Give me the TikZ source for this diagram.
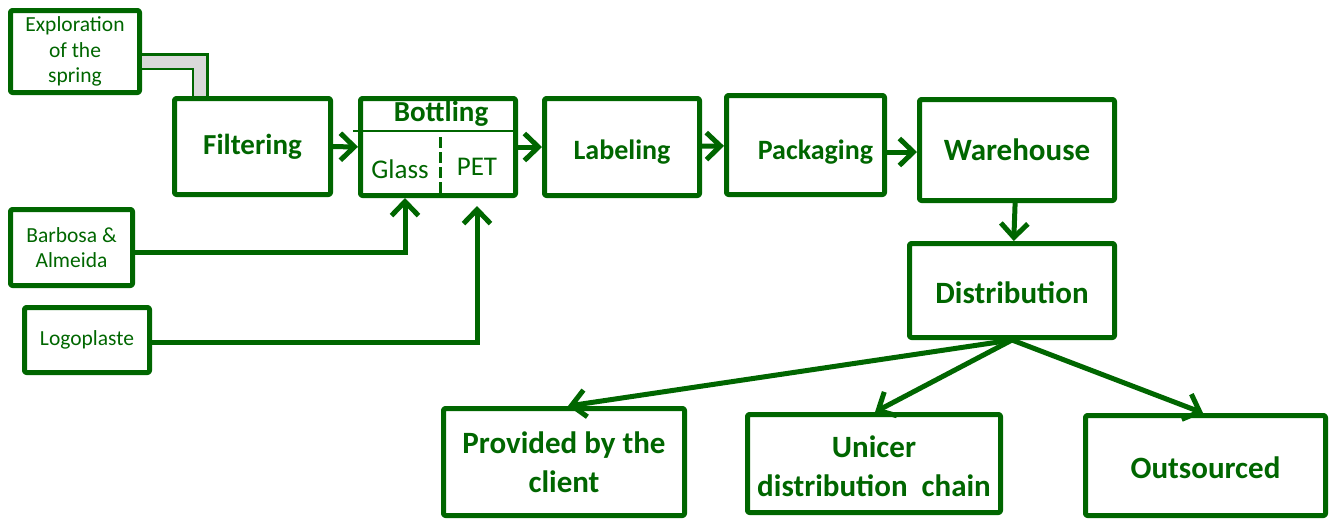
\documentclass[tikz,border=0pt]{standalone}
\usepackage{fontspec}
\setmainfont{Carlito}
\usetikzlibrary{arrows.meta}
\definecolor{dkgreen}{RGB}{0,102,0}

\begin{document}
\begin{tikzpicture}[x=1pt, y=-1pt, line join=round,
  box/.style = {draw=dkgreen, line width=5pt, rounded corners=2pt, text=dkgreen, align=center, inner sep=0pt},
  big/.style = {font=\fontsize{29}{34}\selectfont\bfseries},
  small/.style = {font=\fontsize{21.5}{25.5}\selectfont},
  chan/.style = {font=\fontsize{31}{39}\selectfont\bfseries},
  flow/.style = {draw=dkgreen, line width=5pt, -{Straight Barb[length=14pt, width=27pt]}}]
  \useasboundingbox (0,0) rectangle (1336,520);

  % supplies
  \node[box, small, minimum width=129pt, minimum height=82pt] (expl) at (75,51.5) {Exploration\\of the\\spring};
  \node[box, small, minimum width=122pt, minimum height=76pt] (barb) at (71.5,247.5) {Barbosa \&\\Almeida};
  \node[box, small, minimum width=125pt, minimum height=65pt] (logo) at (87,340) {Logoplaste};

  % main line
  \node[box, big, minimum width=156pt, minimum height=96pt] (filt) at (252.5,146.5) {Filtering};
  \node[box, minimum width=155pt, minimum height=97pt] (bott) at (438,147) {};
  \node[box, big, font=\fontsize{28}{34}\selectfont\bfseries, minimum width=155pt, minimum height=97pt] (lab) at (622,147) {\rule{0pt}{29pt}Labeling};
  \node[box, big, font=\fontsize{28}{34}\selectfont\bfseries, minimum width=158pt, minimum height=99pt] (pack) at (805.5,145) {\hspace*{20pt}\rule{0pt}{33pt}Packaging};
  \node[box, big, font=\fontsize{31}{36}\selectfont\bfseries, minimum width=195pt, minimum height=101pt] (ware) at (1017,150) {Warehouse};
  \node[box, big, font=\fontsize{31}{36}\selectfont\bfseries, minimum width=205pt, minimum height=94pt] (dist) at (1012,290.5) {\rule{0pt}{27pt}Distribution};

  % bottling inside
  \node[big, text=dkgreen] (btl) at (441,114) {Bottling};
  \node[text=dkgreen, font=\fontsize{27}{30}\selectfont] (glass) at (400,169) {Glass};
  \node[text=dkgreen, font=\fontsize{27}{30}\selectfont] (pet) at (477,167) {PET};
  \draw[dkgreen, line width=2.5pt] (353,131) -- (518,131);
  \draw[dkgreen, line width=3pt, dash pattern=on 11pt off 4pt] (440,137) -- (440,197);

  % channels
  \node[box, chan, minimum width=241pt, minimum height=107pt] (prov) at (564,462) {Provided by the\\client};
  \node[box, chan, minimum width=253pt, minimum height=98pt] (unic) at (874,463.5) {\rule{0pt}{28pt}Unicer\\distribution\ \ chain};
  \node[box, chan, minimum width=240pt, minimum height=100pt] (outs) at (1205.5,465.5) {\rule{0pt}{26pt}Outsourced};

  % connectors
  \draw[draw=dkgreen, line width=2.5pt, double=gray!30, double distance=12pt, line join=miter]
    ([yshift=-10pt]expl.east) -| ([xshift=-52.5pt]filt.north);
  \draw[flow] (filt) -- (bott);
  \draw[flow] (bott) -- (lab);
  \draw[flow] (lab) -- (pack);
  \draw[flow] ([yshift=-7pt]pack.east) -- ([yshift=-7pt]pack.east -| ware.west);
  \draw[flow] (ware) -- (dist);
  \draw[flow, line join=miter] ([yshift=-4.5pt]barb.east) -| ([xshift=-33pt]bott.south);
  \draw[flow, shorten >=8pt, line join=miter] ([yshift=-2pt]logo.east) -| ([xshift=39pt]bott.south);
  \draw[flow] (dist.south) -- ([xshift=4pt]prov.north);
  \draw[flow] (dist.south) -- ([xshift=1pt]unic.north);
  \draw[flow] (dist.south) -- ([xshift=-2.5pt]outs.north);
\end{tikzpicture}
\end{document}
